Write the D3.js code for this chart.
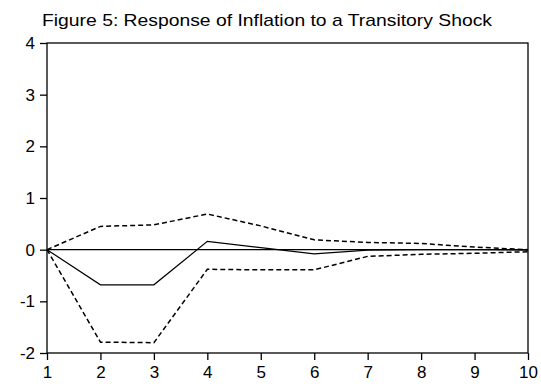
<!DOCTYPE html>
<html>
<head>
<meta charset="utf-8">
<script src="https://cdn.jsdelivr.net/npm/d3@7"></script>
<style>
  body { margin: 0; background: #fff; }
  svg { display: block; }
  .line { fill: none; stroke: #000; }
</style>
</head>
<body>
<div id="chart"></div>
<script>
// Impulse response values
var periods = [1, 2, 3, 4, 5, 6, 7, 8, 9, 10];
var response = [0, -0.68, -0.68, 0.16, 0.04, -0.08, -0.01, 0, 0, -0.01];
var upperBand = [0, 0.45, 0.48, 0.69, 0.46, 0.19, 0.14, 0.12, 0.05, 0];
var lowerBand = [0, -1.79, -1.8, -0.38, -0.39, -0.39, -0.13, -0.09, -0.07, -0.04];
var yTicks = [-2, -1, 0, 1, 2, 3, 4];
var title = "Figure 5: Response of Inflation to a Transitory Shock";

var W = 541, H = 389
  , m = {top: 43, right: 13, bottom: 36, left: 47}
  , w = W - m.left - m.right
  , h = H - m.top - m.bottom
  , font = "Liberation Sans, Arial, sans-serif";

var svg = d3.select("#chart").append("svg")
  .attr("width", W)
  .attr("height", H);

svg.append("text")
  .attr("x", 42)
  .attr("y", 26)
  .attr("textLength", 450)
  .attr("lengthAdjust", "spacingAndGlyphs")
  .style("font-family", font)
  .style("font-size", "17px")
  .text(title);

var g = svg.append("g")
  .attr("transform", "translate(" + m.left + "," + m.top + ")");

var x = d3.scaleLinear().domain([1, 10]).range([0, w]);
var y = d3.scaleLinear().domain([-2, 4]).range([h, 0]);

// Frame
g.append("rect")
  .attr("width", w)
  .attr("height", h)
  .attr("fill", "none")
  .attr("stroke", "#000")
  .attr("stroke-width", 1.3);

// Axes (plain hyphen for negatives, as in the original)
var xAxis = g.append("g")
  .attr("transform", "translate(0," + h + ")")
  .call(d3.axisBottom(x).tickValues(periods).tickSize(7).tickPadding(6).tickFormat(function(d) { return String(d); }));
var yAxis = g.append("g")
  .call(d3.axisLeft(y).tickValues(yTicks).tickSize(7).tickPadding(5).tickFormat(function(d) { return String(d); }));

[xAxis, yAxis].forEach(function(a) {
  a.select(".domain").remove();
  a.selectAll("line").attr("stroke", "#000").attr("stroke-width", 1.3);
  a.selectAll("text")
    .attr("fill", "#000")
    .style("font-family", font)
    .style("font-size", "17px");
});

// Zero line
g.append("line")
  .attr("x1", 0).attr("x2", w)
  .attr("y1", y(0)).attr("y2", y(0))
  .attr("stroke", "#000")
  .attr("stroke-width", 1.2);

var guide = d3.line()
  .x(function(d, i) { return x(periods[i]); })
  .y(function(d) { return y(d); });

g.append("path").datum(upperBand).attr("class", "line")
  .attr("d", guide).attr("stroke-width", 1.5).attr("stroke-dasharray", "5,3");
g.append("path").datum(lowerBand).attr("class", "line")
  .attr("d", guide).attr("stroke-width", 1.5).attr("stroke-dasharray", "5,3");
g.append("path").datum(response).attr("class", "line")
  .attr("d", guide).attr("stroke-width", 1.2);
</script>
</body>
</html>
